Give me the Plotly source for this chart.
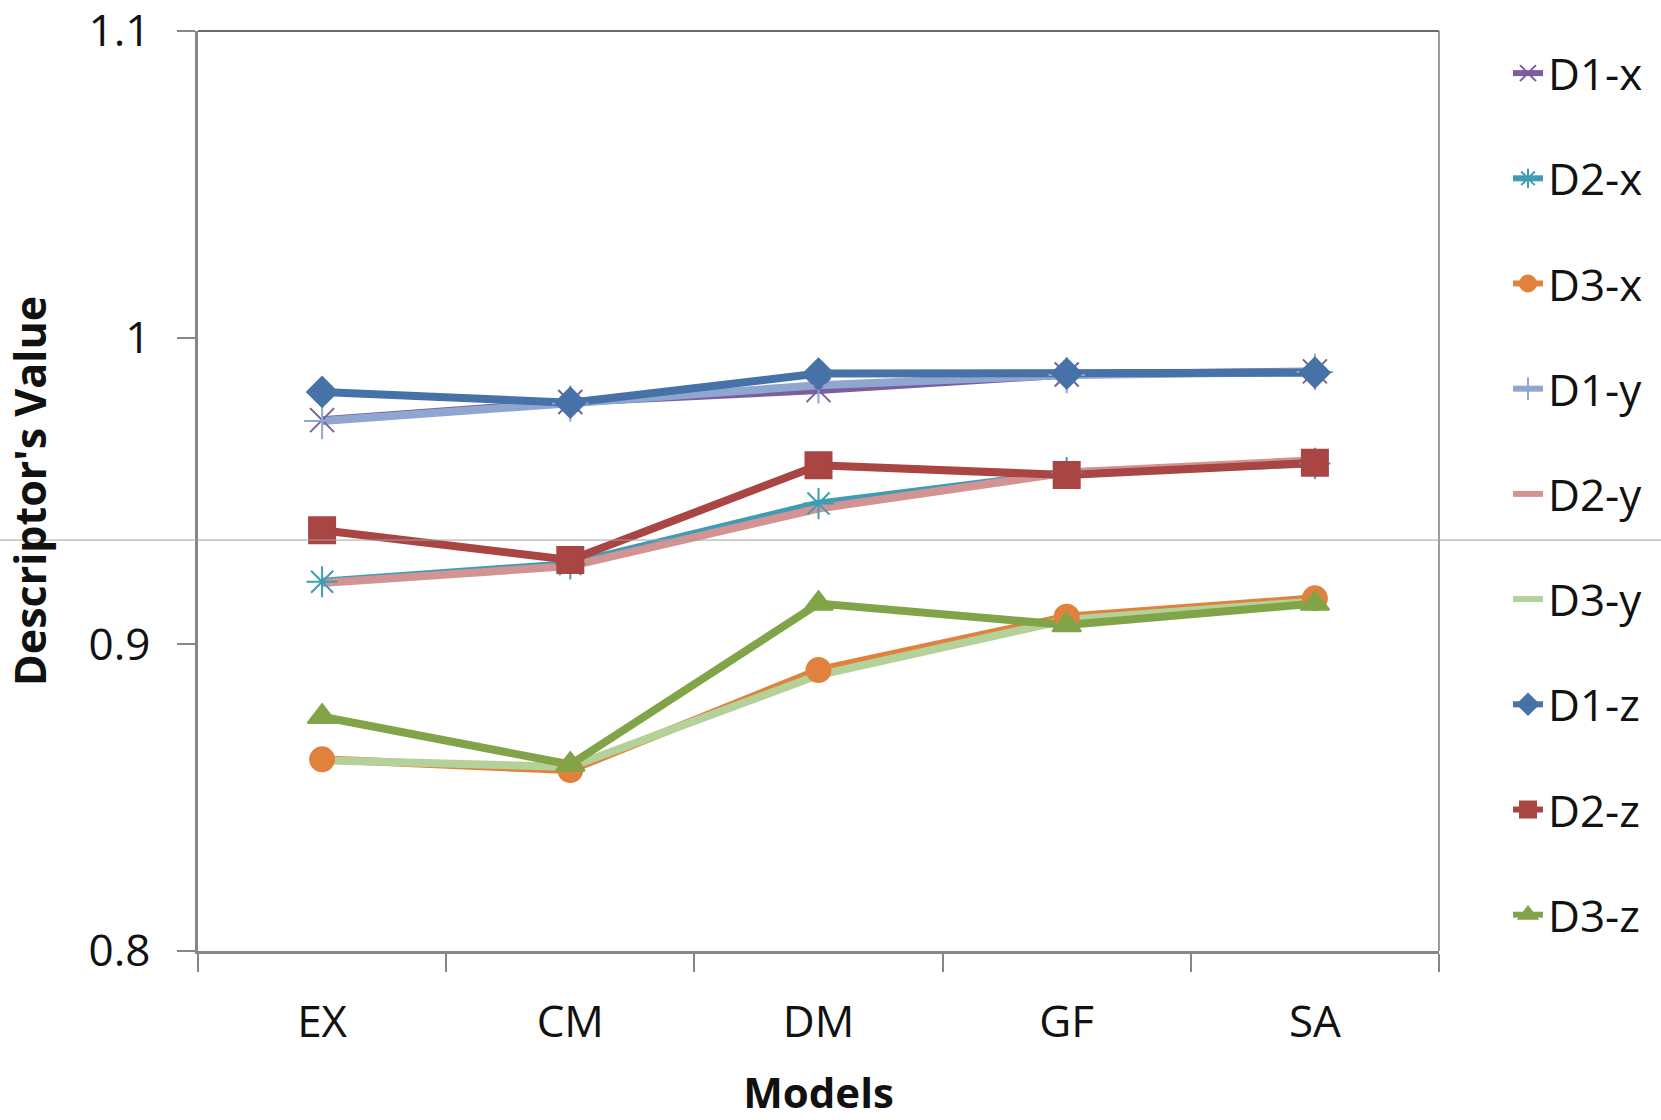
import plotly.graph_objects as go

# Categories (models) and descriptor values per series
models = ["EX", "CM", "DM", "GF", "SA"]

d1_x = [0.9731, 0.9790, 0.9829, 0.9880, 0.9890]
d2_x = [0.9204, 0.9262, 0.9459, 0.9560, 0.9590]
d3_x = [0.8625, 0.8590, 0.8916, 0.9090, 0.9150]
d1_y = [0.9728, 0.9785, 0.9845, 0.9878, 0.9888]
d2_y = [0.9200, 0.9255, 0.9443, 0.9560, 0.9600]
d3_y = [0.8622, 0.8600, 0.8900, 0.9080, 0.9140]
d1_z = [0.9823, 0.9788, 0.9883, 0.9883, 0.9886]
d2_z = [0.9372, 0.9275, 0.9584, 0.9552, 0.9592]
d3_z = [0.8764, 0.8608, 0.9133, 0.9063, 0.9133]

series_names = ["D1-x", "D2-x", "D3-x", "D1-y", "D2-y", "D3-y", "D1-z", "D2-z", "D3-z"]
series_values = [d1_x, d2_x, d3_x, d1_y, d2_y, d3_y, d1_z, d2_z, d3_z]

y_ticks = [0.8, 0.9, 1.0, 1.1]
y_tick_text = ["0.8", "0.9", "1", "1.1"]
y_range = [0.8, 1.1]
ref_level = 0.934  # thin rule across the page

# Styling per series
colors = ["#7b5e9e", "#3e9db5", "#e0823d", "#8fa7d0", "#d49393",
          "#b3d198", "#4672a8", "#a94543", "#80a447"]
symbols = ["x-thin-open", "asterisk-open", "circle", "cross-thin-open", None,
           None, "diamond", "square", "triangle-up"]
sizes = [24, 26, 24, 26, 0, 0, 23, 26, 25]

fig = go.Figure()

# Lines first (all series), then markers on top of every line
for name, vals, col in zip(series_names, series_values, colors):
    fig.add_trace(go.Scatter(
        x=models, y=vals, mode="lines", name=name, showlegend=False,
        line=dict(color=col, width=8), hoverinfo="skip"))

for name, vals, col, sym, sz in zip(series_names, series_values, colors, symbols, sizes):
    if sym is None:
        continue
    fig.add_trace(go.Scatter(
        x=models, y=vals, mode="markers", name=name, showlegend=False,
        marker=dict(symbol=sym, size=sz, color=col, line=dict(color=col, width=2))))

# Legend entries
for name, col, sym, sz in zip(series_names, colors, symbols, sizes):
    mode = "lines+markers" if sym else "lines"
    mk = dict(symbol=sym, size=sz, color=col, line=dict(color=col, width=2)) if sym else None
    fig.add_trace(go.Scatter(
        x=[None], y=[None], mode=mode, name=name, legendgroup=name,
        line=dict(color=col, width=6), marker=mk))

axis_gray = "#868686"
font_family = "Open Sans, Noto Sans, DejaVu Sans, sans-serif"

L, R, T, B = 198, 222, 31, 169
plot_w = 1661 - L - R
plot_h = 1120 - T - B

fig.update_layout(
    width=1661, height=1120,
    margin=dict(l=L, r=R, t=T, b=B, autoexpand=False),
    paper_bgcolor="white", plot_bgcolor="white",
    font=dict(family=font_family, size=44, color="#111111"),
    showlegend=True,
    legend=dict(
        x=(1508 - L) / plot_w, y=1 + (T - 38) / plot_h,
        xanchor="left", yanchor="top",
        font=dict(size=44, color="#111111"),
        traceorder="grouped", tracegroupgap=45,
        bgcolor="rgba(0,0,0,0)", borderwidth=0,
    ),
    xaxis=dict(
        type="category", categoryorder="array", categoryarray=models,
        range=[-0.5, len(models) - 0.5],
        tickson="boundaries", ticks="outside", ticklen=18,
        tickcolor=axis_gray, tickwidth=1.5,
        showline=True, linecolor=axis_gray, linewidth=2.5,
        showgrid=False, zeroline=False, automargin=False,
        ticklabelstandoff=30,
        tickfont=dict(size=44),
        title=dict(text="<b>Models</b>", font=dict(size=42), standoff=38),
    ),
    yaxis=dict(
        range=[y_range[0], y_range[1] + 1e-9],
        tickmode="array", tickvals=y_ticks, ticktext=y_tick_text,
        ticks="outside", ticklen=18, tickcolor=axis_gray, tickwidth=1.5,
        showline=True, linecolor=axis_gray, linewidth=2.5,
        showgrid=False, zeroline=False, automargin=False,
        ticklabelstandoff=18, ticklabeloverflow="allow",
        tickfont=dict(size=44),
        title=dict(text="<b>Descriptor's Value</b>", font=dict(size=43), standoff=32),
    ),
)

ref_y = (ref_level - y_range[0]) / (y_range[1] - y_range[0])
fig.add_shape(type="line", xref="paper", yref="paper", x0=0, x1=1, y0=1, y1=1,
              line=dict(color="#3a3a3a", width=1.5))
fig.add_shape(type="line", xref="paper", yref="paper", x0=1, x1=1, y0=0, y1=1,
              line=dict(color="#7a7a7a", width=1.5))
fig.add_shape(type="line", xref="paper", yref="paper",
              x0=-L / plot_w, x1=(1661 - L) / plot_w, y0=ref_y, y1=ref_y,
              line=dict(color="#a0a0a0", width=1), layer="above")

fig.write_html("out.html")
